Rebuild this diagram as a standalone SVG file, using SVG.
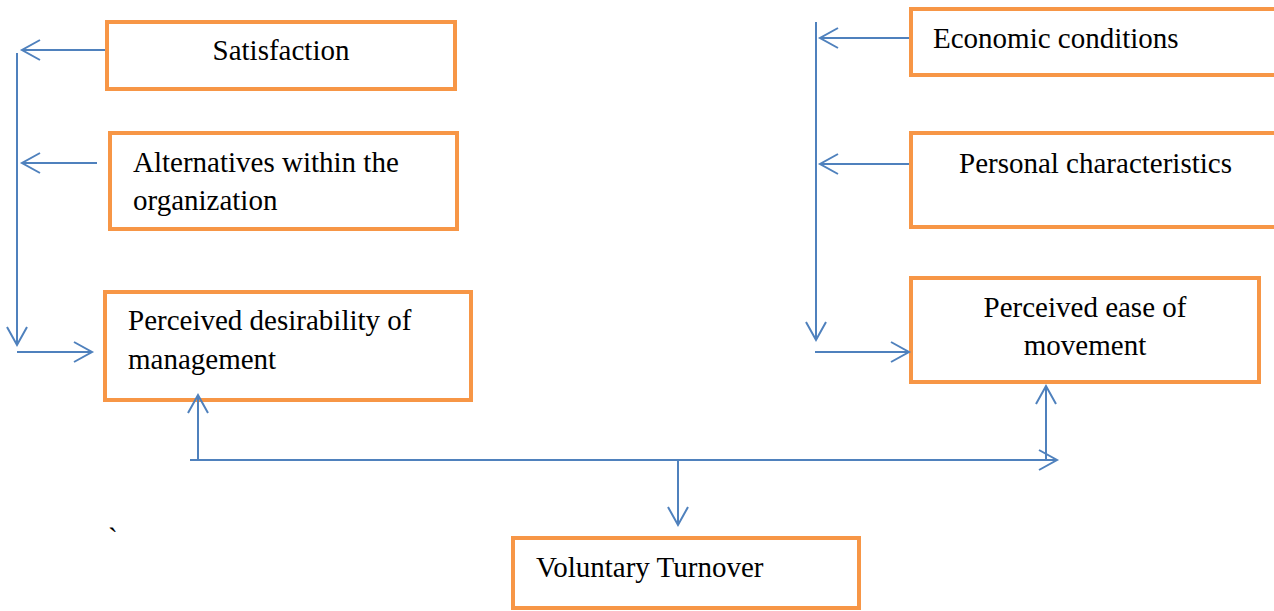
<svg xmlns="http://www.w3.org/2000/svg" width="1274" height="611" viewBox="0 0 1274 611">
<style>
.box{fill:#fff;stroke:#F79646;stroke-width:4}
.t{font-family:"Liberation Serif","Times New Roman",serif;font-size:29px;fill:#000}
.c{fill:none;stroke:#4F81BD;stroke-width:2}
.a{marker-end:url(#arr)}
</style>
<defs>
<marker id="arr" markerUnits="userSpaceOnUse" markerWidth="24" markerHeight="24" viewBox="-20 -12 24 24" refX="0" refY="0" orient="auto">
<path d="M-18,-10 L0,0 L-18,10" fill="none" stroke="#4F81BD" stroke-width="2"/>
</marker>
</defs>
<rect width="1274" height="611" fill="#fff"/>
<g id="satisfaction"><rect class="box" x="107" y="22" width="348" height="67"/><text class="t" x="281" y="60" text-anchor="middle">Satisfaction</text></g>
<g id="alternatives"><rect class="box" x="110" y="133" width="347" height="96"/><text class="t" x="133" y="172">Alternatives within the</text><text class="t" x="133" y="210">organization</text></g>
<g id="desirability"><rect class="box" x="105" y="292" width="366" height="108"/><text class="t" x="128" y="330">Perceived desirability of</text><text class="t" x="128" y="369">management</text></g>
<g id="economic"><rect class="box" x="911" y="9" width="370" height="66"/><text class="t" x="933" y="48">Economic conditions</text></g>
<g id="personal"><rect class="box" x="911" y="133" width="370" height="94"/><text class="t" x="959" y="173">Personal characteristics</text></g>
<g id="ease"><rect class="box" x="911" y="278" width="348" height="104"/><text class="t" x="1085" y="317" text-anchor="middle">Perceived ease of</text><text class="t" x="1085" y="355" text-anchor="middle">movement</text></g>
<g id="turnover"><rect class="box" x="513" y="538" width="346" height="70"/><text class="t" x="536" y="577">Voluntary Turnover</text></g>
<text class="t" x="108" y="548">`</text>
<g id="connectors">
<line class="c a" x1="105" y1="50" x2="22" y2="50"/>
<line class="c a" x1="97" y1="163" x2="22" y2="163"/>
<line class="c a" x1="17" y1="53" x2="17" y2="345"/>
<line class="c a" x1="17" y1="352" x2="92" y2="352"/>
<line class="c a" x1="909" y1="38" x2="820" y2="38"/>
<line class="c a" x1="909" y1="164" x2="820" y2="164"/>
<line class="c a" x1="816" y1="22" x2="816" y2="340"/>
<line class="c a" x1="815" y1="352" x2="909" y2="352"/>
<line class="c a" x1="198" y1="460" x2="198" y2="395"/>
<line class="c a" x1="1046" y1="460" x2="1046" y2="386"/>
<line class="c a" x1="190" y1="460" x2="1057" y2="460"/>
<line class="c a" x1="678" y1="460" x2="678" y2="525"/>
</g>
</svg>
